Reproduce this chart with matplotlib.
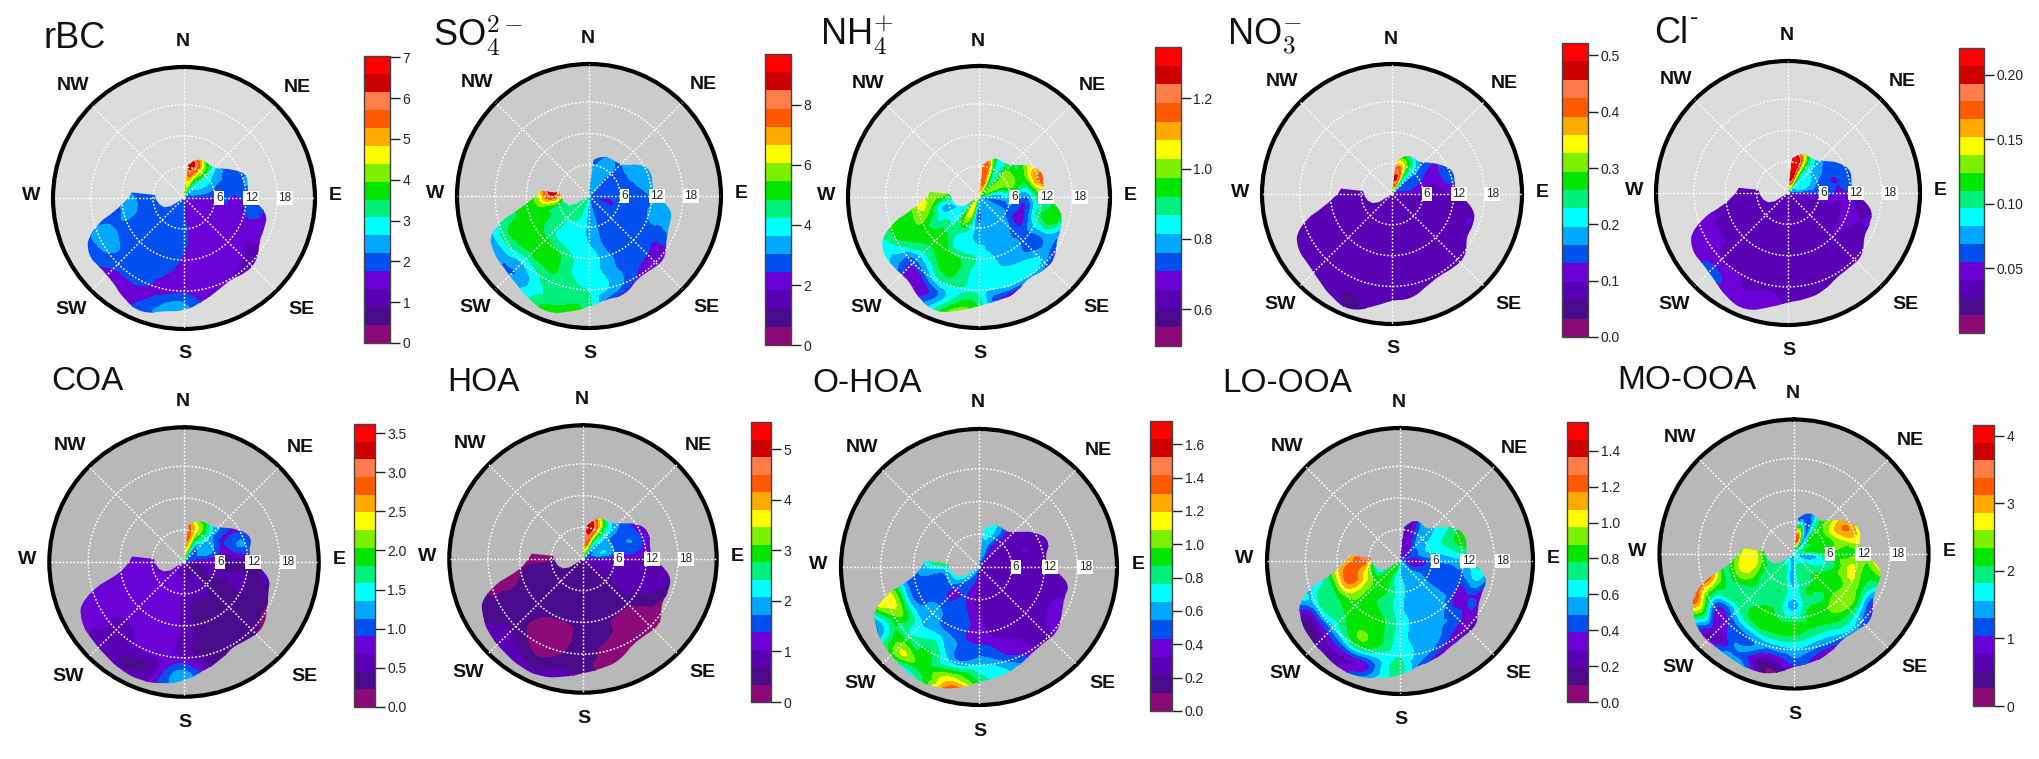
import numpy as np
import matplotlib
matplotlib.use('Agg')
import matplotlib.pyplot as plt
from matplotlib.colors import ListedColormap, BoundaryNorm
from matplotlib.cm import ScalarMappable
from matplotlib.patches import PathPatch
from matplotlib.path import Path
from matplotlib.tri import Triangulation, UniformTriRefiner, CubicTriInterpolator

plt.rcParams['font.family'] = ['Liberation Sans', 'DejaVu Sans']
plt.rcParams['mathtext.fontset'] = 'cm'

W, H = 2039, 759
SPEEDS = [0, 3.5, 7, 10.5, 14, 17.5, 21, 24.5]
DIRS = [0, 15, 30, 45, 60, 75, 90, 105, 120, 135, 150, 165, 180, 195, 210, 225, 240, 255, 270, 285]
EDGE_DIRS = [10, 20, 30, 40, 50, 60, 70, 80, 90, 100, 110, 120, 130, 140, 150, 160, 170, 180, 190, 200, 210, 220, 230, 240, 250, 260, 270]
NOTCH_DIRS = [276, 265, 255, 245, 238, 233]
NOTCH_R = [5.7, 5.3, 4.9, 4.2, 3.0, 0.2]
RINGS = [6, 12, 18]
COMPASS = ['N', 'NE', 'E', 'SE', 'S', 'SW', 'W', 'NW']
COMPASS_DX = [-1, 113, 151, 117, 1, -113, -153, -111]
COMPASS_DY = [-156, -111, -2, 111, 156, 111, -2, -113]
BAND_COLORS = ['#8b0a78', '#4a0a8c', '#5a00b4', '#6a00d6', '#0050f0', '#00a8ff', '#00ffff', '#00f07d',
               '#00e600', '#7df000', '#ffff00', '#ffaa00', '#ff5a00', '#ff7d4a', '#cd0000', '#ff0000']

rbc = [
 [2.4,4.2,2.0,1.9,1.8,1.8,1.6,1.6,1.6,1.6,1.6,1.6,1.8,1.9,1.9,1.9,1.9,2.0,2.0,2.0],
 [3.6,4.8,3.4,2.9,2.6,2.3,1.5,1.5,1.5,1.5,1.5,1.5,1.8,2.0,2.0,2.0,2.0,2.0,2.0,2.0],
 [5.6,6.2,4.6,3.0,2.4,2.0,1.9,1.6,1.55,1.55,1.55,1.55,1.9,2.0,2.0,2.0,2.0,2.0,2.0,2.0],
 [3.0,3.0,2.6,2.2,2.0,2.0,1.7,1.55,1.55,1.55,1.5,1.55,1.75,1.9,2.0,1.95,2.0,2.25,2.25,2.1],
 [2.0,2.0,2.0,2.0,2.0,2.25,2.0,1.8,1.4,1.45,1.5,1.5,1.55,1.9,2.0,2.0,2.15,2.1,2.0,2.0],
 [1.6,1.6,1.6,1.6,1.6,1.6,1.5,1.45,1.3,1.2,1.35,1.5,1.55,1.6,1.95,2.0,2.35,2.1,2.0,2.0],
 [1.6,1.6,1.6,1.6,1.6,1.6,1.5,1.5,1.4,1.3,1.4,1.5,2.3,2.0,1.55,1.6,2.0,2.1,2.0,2.0],
 [1.6,1.6,1.6,1.6,1.6,1.6,1.5,1.5,1.4,1.3,1.4,1.5,2.4,2.0,1.5,1.5,2.0,2.1,2.0,2.0]]
so4 = [
 [2.0,3.3,3.2,3.0,2.9,2.9,2.6,2.7,2.7,2.7,2.7,3.0,3.3,4.2,4.5,4.5,4.6,4.5,4.5,2.2],
 [3.0,3.3,3.3,2.9,2.8,2.7,2.7,2.2,2.6,2.7,2.8,3.0,3.4,4.0,4.4,4.5,4.2,3.6,3.5,6.0],
 [3.0,2.9,3.4,2.9,2.9,2.8,2.8,2.7,2.7,2.7,2.7,3.0,3.4,4.0,4.1,4.3,4.6,5.1,8.2,9.0],
 [3.0,2.7,2.7,3.3,3.4,3.3,2.8,2.7,2.7,2.7,2.7,3.1,3.8,4.0,4.2,4.5,5.0,5.3,5.4,5.6],
 [2.7,2.7,2.7,2.8,2.9,3.0,2.9,3.3,2.7,2.7,2.8,3.3,3.9,4.3,5.2,5.3,5.0,4.9,4.8,4.8],
 [2.2,2.2,2.4,2.6,2.7,2.8,2.8,3.3,2.6,2.1,2.5,3.5,4.1,4.5,4.5,3.9,4.6,4.2,4.2,4.2],
 [2.2,2.2,2.2,2.4,2.6,2.7,2.7,3.0,2.4,2.1,2.4,2.2,4.4,4.6,4.0,3.0,3.2,3.3,3.3,3.3],
 [2.2,2.2,2.2,2.4,2.6,2.7,2.7,3.0,2.4,2.1,2.4,2.2,5.0,5.6,4.0,3.0,3.2,3.3,3.3,3.3]]
nh4 = [
 [0.68,1.05,0.85,0.8,0.95,0.95,0.74,0.74,0.79,0.79,0.79,0.79,0.74,0.9,1.0,1.1,1.15,1.0,0.95,0.68],
 [0.95,1.15,0.95,0.9,1.0,0.85,0.79,0.72,0.79,0.79,0.79,0.79,0.74,0.88,1.05,0.85,0.84,0.84,0.9,0.85],
 [0.95,1.12,0.84,0.95,1.0,0.95,0.79,0.74,0.72,0.79,0.79,0.8,0.79,0.84,0.9,0.86,0.84,0.8,0.95,1.0],
 [0.9,0.95,0.95,0.95,1.0,1.0,0.84,0.79,0.74,0.74,0.79,0.79,0.84,0.84,0.88,0.95,0.9,1.0,1.02,1.0],
 [0.9,0.9,0.9,0.95,1.0,1.2,0.95,0.95,0.79,0.74,0.79,0.82,0.84,0.92,0.95,0.9,0.95,0.95,0.95,0.95],
 [0.8,0.8,0.8,0.85,0.9,1.0,0.95,0.8,0.72,0.79,0.84,0.84,0.84,0.88,0.84,0.74,0.9,0.92,0.9,0.9],
 [0.8,0.8,0.8,0.8,0.8,0.8,0.7,0.68,0.66,0.66,0.66,0.63,0.9,0.88,0.68,0.72,0.84,0.88,0.88,0.88],
 [0.8,0.8,0.8,0.8,0.8,0.8,0.7,0.68,0.66,0.66,0.66,0.63,0.95,1.0,0.68,0.72,0.84,0.88,0.88,0.88]]
no3 = [
 [0.26,0.28,0.2,0.15,0.12,0.1,0.09,0.09,0.09,0.09,0.09,0.09,0.09,0.09,0.09,0.09,0.09,0.09,0.09,0.09],
 [0.35,0.46,0.29,0.16,0.14,0.13,0.09,0.09,0.09,0.09,0.09,0.09,0.09,0.09,0.09,0.09,0.09,0.09,0.09,0.09],
 [0.24,0.3,0.25,0.17,0.13,0.1,0.09,0.09,0.09,0.09,0.09,0.09,0.09,0.09,0.09,0.09,0.09,0.09,0.09,0.09],
 [0.15,0.15,0.15,0.14,0.13,0.13,0.09,0.09,0.09,0.09,0.09,0.09,0.09,0.09,0.09,0.09,0.09,0.09,0.09,0.09],
 [0.09,0.09,0.09,0.09,0.09,0.14,0.09,0.09,0.09,0.09,0.09,0.09,0.09,0.09,0.09,0.09,0.09,0.09,0.09,0.09],
 [0.09,0.09,0.09,0.09,0.09,0.09,0.09,0.09,0.09,0.09,0.09,0.09,0.09,0.09,0.09,0.09,0.09,0.09,0.09,0.09],
 [0.09,0.09,0.09,0.09,0.09,0.09,0.09,0.09,0.09,0.09,0.09,0.09,0.09,0.07,0.07,0.09,0.09,0.09,0.09,0.09],
 [0.09,0.09,0.09,0.09,0.09,0.09,0.09,0.09,0.09,0.09,0.09,0.09,0.06,0.06,0.07,0.07,0.09,0.09,0.09,0.09]]
cl = [
 [0.09,0.09,0.08,0.07,0.06,0.05,0.04,0.04,0.04,0.04,0.04,0.04,0.04,0.04,0.04,0.04,0.04,0.04,0.04,0.04],
 [0.16,0.2,0.12,0.09,0.09,0.08,0.05,0.04,0.04,0.04,0.04,0.04,0.04,0.04,0.04,0.04,0.04,0.04,0.04,0.04],
 [0.16,0.2,0.12,0.08,0.07,0.06,0.06,0.04,0.04,0.04,0.04,0.04,0.04,0.04,0.04,0.04,0.04,0.04,0.04,0.04],
 [0.09,0.09,0.08,0.07,0.06,0.06,0.05,0.04,0.04,0.04,0.04,0.04,0.04,0.04,0.04,0.04,0.04,0.04,0.04,0.04],
 [0.05,0.05,0.05,0.05,0.05,0.06,0.04,0.04,0.04,0.04,0.04,0.04,0.04,0.04,0.04,0.04,0.04,0.04,0.04,0.04],
 [0.04,0.04,0.04,0.04,0.04,0.04,0.04,0.04,0.04,0.04,0.04,0.04,0.04,0.04,0.04,0.04,0.045,0.045,0.04,0.04],
 [0.04,0.04,0.04,0.04,0.04,0.04,0.04,0.04,0.04,0.04,0.04,0.04,0.04,0.045,0.045,0.06,0.045,0.045,0.04,0.04],
 [0.04,0.04,0.04,0.04,0.04,0.04,0.04,0.04,0.04,0.04,0.04,0.04,0.04,0.045,0.045,0.06,0.045,0.045,0.04,0.04]]
coa = [
 [2.2,1.8,1.2,1.0,1.0,1.0,0.6,0.45,0.45,0.45,0.45,0.45,0.6,0.7,0.7,0.7,0.7,0.7,0.7,0.7],
 [2.6,2.4,1.4,1.1,1.2,1.0,0.6,0.45,0.34,0.4,0.5,0.45,0.6,0.7,0.7,0.7,0.7,0.7,0.7,0.7],
 [3.2,2.5,2.0,1.3,1.0,0.8,0.4,0.5,0.34,0.34,0.5,0.45,0.6,0.75,0.75,0.75,0.75,0.8,0.8,0.8],
 [1.9,1.7,1.2,1.1,0.9,1.1,0.45,0.55,0.4,0.34,0.34,0.34,0.6,0.75,0.75,0.7,0.75,0.85,0.85,0.8],
 [0.8,0.8,0.8,0.8,0.8,1.1,0.6,0.4,0.34,0.34,0.34,0.34,0.6,0.75,0.75,0.7,0.75,0.8,0.8,0.8],
 [0.6,0.6,0.6,0.6,0.6,0.6,0.5,0.34,0.2,0.34,0.34,0.34,0.6,0.75,0.7,0.65,0.75,0.8,0.8,0.8],
 [0.6,0.6,0.6,0.6,0.6,0.6,0.5,0.34,0.3,0.2,0.34,0.5,1.2,0.6,0.4,0.6,0.7,0.7,0.7,0.7],
 [0.6,0.6,0.6,0.6,0.6,0.6,0.5,0.34,0.3,0.2,0.34,0.5,1.2,0.6,0.34,0.6,0.7,0.7,0.7,0.7]]
hoa = [
 [1.8,2.4,1.8,1.6,1.4,1.2,0.9,0.8,0.7,0.55,0.55,0.55,0.5,0.5,0.5,0.6,0.8,0.5,0.5,0.5],
 [3.6,4.3,2.5,2.0,1.9,2.0,0.95,0.85,0.8,0.5,0.5,0.5,0.5,0.5,0.5,0.5,0.5,0.5,0.4,0.2],
 [3.8,4.9,3.2,2.0,1.6,1.6,1.0,0.9,0.9,0.5,0.5,0.5,0.5,0.5,0.5,0.5,0.5,0.5,0.2,0.2],
 [1.7,1.8,1.6,1.6,1.5,1.6,0.95,0.9,0.9,0.6,0.55,0.5,0.5,0.5,0.5,0.5,0.5,0.5,0.2,0.2],
 [0.9,0.9,0.9,0.9,0.9,1.0,0.9,0.9,0.6,0.2,0.2,0.5,0.5,0.2,0.2,0.5,0.5,0.2,0.2,0.2],
 [0.8,0.8,0.8,0.8,0.8,0.8,0.85,0.5,0.2,0.2,0.2,0.2,0.5,0.2,0.2,0.5,0.5,0.2,0.2,0.2],
 [0.8,0.8,0.8,0.8,0.8,0.8,0.8,0.5,0.9,0.2,0.2,0.2,0.5,0.6,0.5,0.9,0.5,0.5,0.4,0.4],
 [0.8,0.8,0.8,0.8,0.8,0.8,0.8,0.5,0.9,0.2,0.2,0.2,0.5,0.85,0.85,0.9,0.5,0.5,0.4,0.4]]
ohoa = [
 [0.5,0.5,0.4,0.35,0.3,0.3,0.28,0.3,0.3,0.3,0.3,0.3,0.3,0.45,0.55,0.6,0.6,0.5,0.6,0.6],
 [0.5,0.6,0.4,0.3,0.3,0.3,0.28,0.28,0.28,0.3,0.3,0.3,0.3,0.4,0.48,0.55,0.7,0.8,0.9,1.0],
 [0.65,0.7,0.55,0.3,0.3,0.3,0.28,0.28,0.28,0.28,0.3,0.3,0.3,0.38,0.45,0.38,0.5,0.5,0.7,1.1],
 [0.5,0.6,0.5,0.3,0.3,0.3,0.28,0.28,0.28,0.28,0.3,0.3,0.35,0.48,0.5,0.55,0.5,0.5,0.6,0.65],
 [0.3,0.3,0.3,0.3,0.3,0.2,0.2,0.28,0.28,0.3,0.3,0.35,0.42,0.5,0.6,0.6,0.62,0.6,0.6,0.6],
 [0.25,0.25,0.25,0.25,0.25,0.2,0.2,0.28,0.4,0.3,0.36,0.5,0.6,0.55,0.85,0.75,1.0,1.1,1.0,1.0],
 [0.25,0.25,0.25,0.25,0.25,0.2,0.2,0.28,0.36,0.3,0.4,0.65,0.85,1.1,0.9,1.05,0.6,1.15,1.1,1.1],
 [0.25,0.25,0.25,0.25,0.25,0.2,0.2,0.28,0.36,0.3,0.4,0.65,1.3,1.7,0.45,0.75,0.3,0.35,0.5,0.5]]
looa = [
 [0.24,0.4,0.4,0.44,0.44,0.44,0.4,0.44,0.54,0.54,0.54,0.54,0.62,0.75,0.8,0.7,0.7,0.65,0.6,0.3],
 [0.25,0.3,0.3,0.44,0.44,0.44,0.3,0.35,0.44,0.54,0.54,0.54,0.6,0.65,0.8,0.85,0.6,0.44,0.5,1.4],
 [0.35,0.25,0.45,0.55,0.62,0.6,0.48,0.44,0.44,0.54,0.54,0.54,0.62,0.72,0.8,0.85,0.95,1.05,1.25,1.45],
 [0.3,0.3,0.55,0.6,0.7,0.72,0.54,0.44,0.44,0.54,0.54,0.54,0.63,0.75,0.8,0.85,1.05,1.22,1.05,0.85],
 [0.3,0.3,0.5,0.65,0.8,0.9,0.7,0.54,0.34,0.44,0.5,0.54,0.63,0.8,0.85,0.8,0.75,0.75,0.8,0.75],
 [0.25,0.25,0.4,0.5,0.6,0.8,0.8,0.34,0.34,0.3,0.4,0.54,0.65,0.73,0.8,0.6,0.65,0.55,0.55,0.55],
 [0.25,0.25,0.3,0.4,0.5,0.6,0.6,0.34,0.3,0.3,0.24,0.3,0.7,0.42,0.3,0.24,0.24,0.8,0.8,0.8],
 [0.25,0.25,0.3,0.4,0.5,0.6,0.6,0.34,0.3,0.3,0.24,0.3,0.7,0.7,0.34,0.3,0.24,0.6,0.6,0.6]]
moa = [
 [0.9,1.2,1.5,1.6,1.7,1.7,1.9,1.7,1.7,1.6,1.5,1.5,1.5,1.4,1.4,1.4,1.7,0.9,0.9,0.9],
 [2.2,3.0,1.3,2.0,2.0,2.3,1.6,1.5,1.7,1.95,2.0,1.95,1.5,1.6,1.95,1.9,1.95,1.4,1.2,0.6],
 [1.1,1.2,1.4,2.2,2.3,2.2,2.2,1.9,2.1,2.2,2.1,2.0,1.6,1.95,2.0,2.0,2.1,2.5,2.6,2.4],
 [1.2,1.2,1.6,2.3,3.1,2.7,2.2,2.6,2.3,2.3,2.1,2.05,1.5,1.9,2.05,2.0,2.2,2.6,2.4,2.2],
 [1.2,1.2,1.4,2.0,2.4,2.7,2.5,2.2,2.2,2.4,2.2,2.1,2.2,2.2,2.2,1.9,1.95,2.2,2.0,2.0],
 [0.8,0.8,1.0,1.4,1.6,1.7,2.6,2.3,1.1,1.4,1.5,1.4,1.6,1.5,1.3,1.0,1.5,3.4,3.4,3.4],
 [0.8,0.8,0.8,1.0,1.2,1.3,2.0,1.9,1.0,0.9,0.65,0.65,1.0,0.45,1.3,0.7,2.6,3.6,3.0,3.0],
 [0.8,0.8,0.8,1.0,1.2,1.3,2.0,1.9,1.0,0.9,0.65,0.65,0.9,0.3,2.7,0.6,3.0,3.0,3.0,3.0]]

rbc_edge = [6.8,8,8.2,7.9,8.7,11,13,12.4,12.5,16.3,16.6,16.7,18.5,18.8,18,19,20.3,21.8,22.1,23.7,22.8,21.2,21,21.6,19.4,13,10.7]
so4_edge = [7.3,8,8.3,8.3,9,12,12.8,12.3,12.5,16.3,16.3,17,19,18.4,18.3,20.2,20,21.2,22.6,23.8,22.9,21.8,21.3,21.3,20.3,13,10]
nh4_edge = [6.6,8,8.2,8.2,9.5,12,13.2,12.5,13,16.2,16.9,17.2,19,18.8,18.3,20,20.3,21,22.3,23.7,22.9,21,21.3,21.6,19.6,12.5,10]
no3_edge = [6.6,8,8.2,8,9.5,11.2,12.8,12.3,12.5,16.2,17,16.6,18.8,18.7,18.3,19.2,20.8,20.6,22.3,24.2,23.3,22,21.2,21.3,19.6,13,10.5]
cl_edge = [7,8,8.1,8,9.5,11.5,12.8,12.3,12.3,16.4,16.8,16.7,18.7,18.5,18.6,20,20.6,20.9,22.3,24,23.3,21.8,21.2,21.5,19.5,12,10]
coa_edge = [7.3,8.2,8.4,8.4,10,12,13.6,12.3,12.5,16.4,16.8,18,19.4,18.9,18.3,19.7,20.7,22.4,23.2,23.7,23.5,22.9,22.6,22.4,20.5,12,10.3]
hoa_edge = [6.8,8.2,8.5,8.6,10.5,12.8,13.4,12.8,13,16.9,17.3,17,19.2,18.6,18.6,20.4,21,21.6,22.7,23.7,23.6,23.1,22.8,22,20.3,12,10.3]
ohoa_edge = [7.2,8.3,8.3,8.2,10,12.5,13.8,12.3,12.5,17,16.5,17.5,18.7,18.2,18.6,19.7,20.5,21,22.6,23.5,23.6,23,22.6,22,20.3,12.2,10.5]
looa_edge = [6.9,8.3,8.2,7.8,10,12.5,13.4,12.7,13,16.9,16.7,17,19.1,18.7,18.9,19.8,20.2,21.8,22.6,23.5,23.5,22.8,22.6,22,20.2,12.2,10.2]
moa_edge = [7.2,8.3,8.1,7.8,10,12,13.4,12.4,12.8,16.9,16.7,17,19.2,18.6,18.3,19.8,20.7,21.1,23,23.3,23,22.8,23.2,22,20,12.2,10.4]

TITLES = ['rBC', r'SO$_4^{2-}$', r'NH$_4^{+}$', r'NO$_3^{-}$', 'Cl', 'COA', 'HOA', 'O-HOA', 'LO-OOA', 'MO-OOA']
TITLE_SIZE = [26, 26, 26, 26, 26, 24, 24, 24, 24, 24]
FIELDS = [rbc, so4, nh4, no3, cl, coa, hoa, ohoa, looa, moa]
EDGES = [rbc_edge, so4_edge, nh4_edge, no3_edge, cl_edge, coa_edge, hoa_edge, ohoa_edge, looa_edge, moa_edge]
VMIN = [0, 0, 0.496, 0, 0, 0, 0, 0, 0, 0]
VMAX = [7.03, 9.7, 1.345, 0.522, 0.2206, 3.616, 5.54, 1.74, 1.56, 4.16]
TICKS = [[0, 1, 2, 3, 4, 5, 6, 7], [0, 2, 4, 6, 8], [0.6, 0.8, 1.0, 1.2], [0, 0.1, 0.2, 0.3, 0.4, 0.5],
         [0.05, 0.10, 0.15, 0.20], [0, 0.5, 1, 1.5, 2, 2.5, 3, 3.5], [0, 1, 2, 3, 4, 5],
         [0, 0.2, 0.4, 0.6, 0.8, 1, 1.2, 1.4, 1.6], [0, 0.2, 0.4, 0.6, 0.8, 1, 1.2, 1.4], [0, 1, 2, 3, 4]]
TICK_FMT = ['%d', '%d', '%.1f', '%.1f', '%.2f', '%.1f', '%d', '%.1f', '%.1f', '%d']

CX = [184, 589, 979, 1392, 1788, 184, 583, 979, 1400, 1794]
CY = [198, 196, 197, 194, 193, 562, 559, 567, 561, 554]
RAD = [131, 132, 131, 130, 132, 134.7, 133.7, 138, 133, 134.5]
BG = ['#dcdcdc', '#cbcbcb', '#dcdcdc', '#dcdcdc', '#dcdcdc', '#b8b8b8', '#b8b8b8', '#b8b8b8', '#b8b8b8', '#b8b8b8']
TITLE_X = [43, 433, 820, 1227, 1654, 51, 447, 812, 1222, 1617]
TITLE_Y = [48, 47, 46, 45, 43, 390, 391, 392, 392, 389]
CB_X0 = [364, 765, 1155, 1562, 1959, 354, 751, 1150, 1567, 1973]
CB_X1 = [390, 791, 1181, 1588, 1984, 375, 771, 1172, 1588, 1994]
CB_Y0 = [56, 54, 47, 43, 48, 424, 422, 421, 422, 425]
CB_Y1 = [343, 345, 346, 337, 333, 707, 702, 711, 702, 706]
RMAX = 25.3

fig = plt.figure(figsize=(W / 100, H / 100), dpi=100, facecolor='white')
cmap = ListedColormap(BAND_COLORS).with_extremes(under=BAND_COLORS[0], over=BAND_COLORS[-1])
col = np.arange(len(DIRS), dtype=float)
row = np.arange(len(SPEEDS), dtype=float)
gx, gy = np.meshgrid(col, row)
base_tri = Triangulation(gx.ravel(), gy.ravel())
refiner = UniformTriRefiner(base_tri)
dir_step = DIRS[1] - DIRS[0]
spd_step = SPEEDS[1] - SPEEDS[0]


def outline_path(edge):
    th = np.radians(EDGE_DIRS)
    r = np.array(edge, dtype=float)
    verts = [(np.radians(7), 0.2), (np.radians(7), r[0] - 0.4)]
    codes = [Path.MOVETO, Path.LINETO]
    for j in range(len(r) - 1):
        verts += [(th[j], r[j]), ((th[j] + th[j + 1]) / 2, (r[j] + r[j + 1]) / 2)]
        codes += [Path.CURVE3, Path.CURVE3]
    verts.append((th[-1], r[-1]))
    codes.append(Path.LINETO)
    verts.append((np.radians(276), r[-1] - 0.5))
    codes.append(Path.LINETO)
    for d, nr in zip(NOTCH_DIRS, NOTCH_R):
        verts.append((np.radians(d), nr))
        codes.append(Path.LINETO)
    verts.append(verts[0])
    codes.append(Path.CLOSEPOLY)
    return Path(verts, codes)


for i in range(10):
    cx, cy, rad = CX[i], CY[i], RAD[i]
    ax = fig.add_axes([(cx - rad) / W, 1 - (cy + rad) / H, 2 * rad / W, 2 * rad / H], projection='polar')
    ax.set_theta_zero_location('N')
    ax.set_theta_direction(-1)
    ax.set_facecolor(BG[i])
    ax.set_rlim(0, RMAX)
    ax.set_rticks(RINGS)
    ax.set_thetagrids(range(0, 360, 45))
    ax.set_xticklabels([])
    ax.set_yticklabels([])
    ax.tick_params(length=0)
    ax.set_axisbelow(False)
    ax.grid(True, color='white', linestyle=(0, (1.2, 1.3)), linewidth=1.05)
    ax.spines['polar'].set_linewidth(3.0)
    ax.spines['polar'].set_color('black')

    levels = np.linspace(VMIN[i], VMAX[i], 17)
    norm = BoundaryNorm(levels, 16)
    z = np.array(FIELDS[i], dtype=float).ravel()
    interp = CubicTriInterpolator(base_tri, z, kind='min_E')
    tri_f, z_f = refiner.refine_field(z, triinterpolator=interp, subdiv=4)
    tri_p = Triangulation(np.radians(tri_f.x * dir_step), tri_f.y * spd_step, tri_f.triangles)
    cs = ax.tricontourf(tri_p, z_f, levels=levels, cmap=cmap, norm=norm, extend='both', zorder=1.5)
    cs.set_edgecolor('face')
    cs.set_linewidth(0.3)

    clip = PathPatch(outline_path(EDGES[i]), transform=ax.transData)
    cs.set_clip_path(clip)

    for ring, off in zip(RINGS, [0.8, 1.0, 1.5]):
        ax.text(np.radians(90), ring + off, str(ring), ha='center', va='center', fontsize=8.5, color='#222222',
                zorder=5, bbox=dict(boxstyle='square,pad=0.12', fc='white', ec='none'))

    k = rad / 131
    for name, dx, dy in zip(COMPASS, COMPASS_DX, COMPASS_DY):
        fig.text((cx + dx * k) / W, 1 - (cy + dy * k) / H, name, ha='center', va='center',
                 fontsize=14, fontweight='bold', color='#111111')

    fig.text(TITLE_X[i] / W, 1 - TITLE_Y[i] / H, TITLES[i], ha='left', va='baseline', fontsize=TITLE_SIZE[i], color='#111111')
    if i == 4:
        fig.text((TITLE_X[i] + 36) / W, 1 - (TITLE_Y[i] - 18) / H, '-', ha='left', va='baseline', fontsize=18, color='#111111')

    cax = fig.add_axes([CB_X0[i] / W, 1 - CB_Y1[i] / H, (CB_X1[i] - CB_X0[i]) / W, (CB_Y1[i] - CB_Y0[i]) / H])
    cb = fig.colorbar(ScalarMappable(norm=norm, cmap=ListedColormap(BAND_COLORS)), cax=cax, ticks=TICKS[i],
                      spacing='proportional', format=TICK_FMT[i])
    cb.minorticks_off()
    cb.outline.set_edgecolor('#444444')
    cb.outline.set_linewidth(1.0)
    cb.ax.tick_params(length=7, width=1, labelsize=10, colors='#222222', pad=2)

fig.savefig('out.png', dpi=100, facecolor='white')
